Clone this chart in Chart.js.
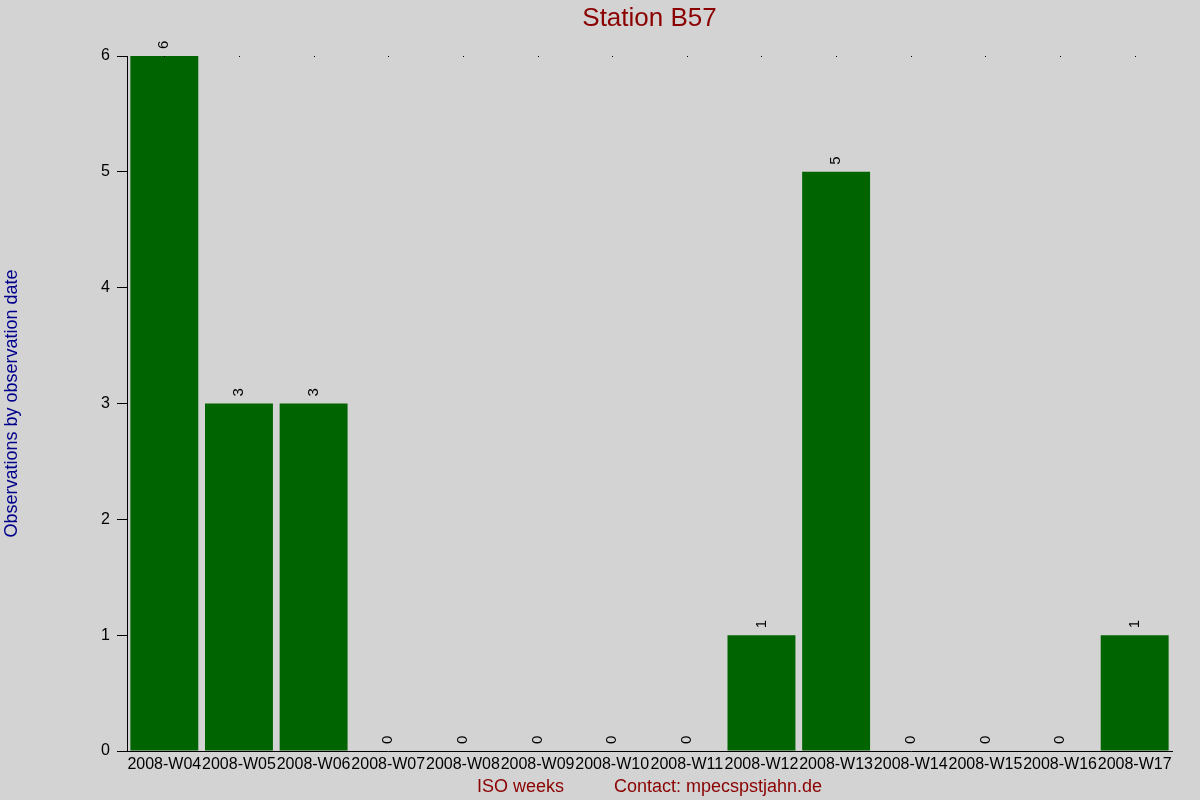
<!DOCTYPE html>
<html>
<head>
<meta charset="utf-8">
<script src="https://cdn.jsdelivr.net/npm/chart.js@4/dist/chart.umd.min.js"></script>
<style>
  html, body { margin: 0; padding: 0; background: #d3d3d3; }
  #wrap { width: 1200px; height: 800px; }
  canvas { display: block; background: #d3d3d3; }
</style>
</head>
<body>
<div id="wrap"><canvas id="c" width="1200" height="800"></canvas></div>
<script>
const weeks = ['2008-W04','2008-W05','2008-W06','2008-W07','2008-W08','2008-W09','2008-W10','2008-W11','2008-W12','2008-W13','2008-W14','2008-W15','2008-W16','2008-W17'];
const observations = [6, 3, 3, 0, 0, 0, 0, 0, 1, 5, 0, 0, 0, 1];
const yTicks = [0, 1, 2, 3, 4, 5, 6];
const chartTitle = 'Station B57';
const yTitle = 'Observations by observation date';
const xTitle = 'ISO weeks          Contact: mpecspstjahn.de';

const FONT = "'Liberation Sans', Arial, sans-serif";

const extras = {
  id: 'extras',
  afterDatasetsDraw(chart) {
    const ctx = chart.ctx;
    const xs = chart.scales.x, ys = chart.scales.y;
    const area = chart.chartArea;
    ctx.save();
    // title centred over the plot area
    ctx.font = '26px ' + FONT;
    ctx.fillStyle = '#8b0000';
    ctx.textAlign = 'center';
    ctx.textBaseline = 'middle';
    ctx.fillText(chartTitle, (area.left + area.right) / 2, 19);
    // extend x axis line to the left (tick length)
    ctx.strokeStyle = '#000';
    ctx.lineWidth = 1;
    ctx.beginPath();
    ctx.moveTo(area.left - 10, area.bottom + 0.5);
    ctx.lineTo(area.left, area.bottom + 0.5);
    ctx.stroke();
    // small top markers
    ctx.fillStyle = '#000';
    weeks.forEach((w, i) => {
      const x = Math.round(xs.getPixelForValue(i));
      ctx.fillRect(x, Math.round(area.top), 1, 1);
    });
    // value labels
    ctx.font = '15px ' + FONT;
    ctx.fillStyle = '#000';
    ctx.textAlign = 'left';
    ctx.textBaseline = 'middle';
    observations.forEach((v, i) => {
      const x = xs.getPixelForValue(i);
      const y = ys.getPixelForValue(v);
      ctx.save();
      ctx.translate(x, y - 7);
      ctx.rotate(-Math.PI / 2);
      ctx.fillText(String(v), 0, 0);
      ctx.restore();
    });
    ctx.restore();
  }
};

new Chart(document.getElementById('c'), {
  type: 'bar',
  data: {
    labels: weeks,
    datasets: [{
      data: observations,
      backgroundColor: '#006400',
      borderWidth: 0,
      barPercentage: 0.91,
      categoryPercentage: 1.0
    }]
  },
  options: {
    responsive: false,
    animation: false,
    devicePixelRatio: 1,
    layout: { padding: { left: 0, right: 28, top: 56, bottom: 0 } },
    plugins: {
      legend: { display: false },
      tooltip: { enabled: false },
      title: { display: false }
    },
    scales: {
      x: {
        grid: { display: false, drawTicks: false },
        border: { display: true, color: '#000', width: 1 },
        ticks: {
          color: '#000',
          font: { family: FONT, size: 16 },
          maxRotation: 0,
          minRotation: 0,
          autoSkip: false,
          padding: 4
        },
        title: {
          display: true,
          text: xTitle,
          color: '#8b0000',
          font: { family: FONT, size: 18 },
          padding: { top: 0, bottom: 2 }
        },
        afterFit(scale) { scale.height = 49; }
      },
      y: {
        min: 0,
        max: 6,
        afterBuildTicks(scale) { scale.ticks = yTicks.map(v => ({ value: v })); },
        grid: { display: true, drawOnChartArea: false, drawTicks: true, tickLength: 10, color: '#000' },
        border: { display: true, color: '#000', width: 1 },
        ticks: {
          color: '#000',
          font: { family: FONT, size: 16 },
          padding: 7
        },
        title: {
          display: true,
          text: yTitle,
          color: '#00008b',
          font: { family: FONT, size: 18 },
          padding: { top: 1, bottom: 0 }
        },
        afterFit(scale) { scale.width = 127; }
      }
    }
  },
  plugins: [extras]
});
</script>
</body>
</html>
